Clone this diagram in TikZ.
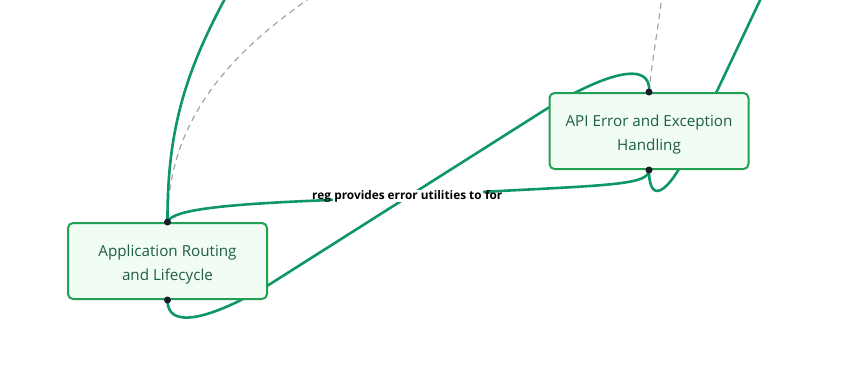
\documentclass[tikz,border=0pt]{standalone}
\usepackage{fontspec}
\setmainfont{Open Sans}
\usetikzlibrary{backgrounds}
\definecolor{edgegreen}{HTML}{0E9664}
\definecolor{boxborder}{HTML}{22A052}
\definecolor{boxfill}{HTML}{F0FCF4}
\definecolor{boxtext}{HTML}{1F5E45}
\definecolor{dashgray}{HTML}{A0A4AC}
\definecolor{dotcol}{HTML}{1A1A2A}
% strut that lowers the first text line a little inside a box
\newcommand{\toppad}{\rule{0pt}{18pt}}
\tikzset{
  box/.style={draw=boxborder, line width=2pt, fill=boxfill, rounded corners=5pt,
    minimum width=199pt, minimum height=76pt, align=center, text=boxtext,
    font=\fontsize{15.2}{24}\selectfont, inner sep=0pt},
  flow/.style={draw=edgegreen, line width=2.6pt},
  weak/.style={draw=dashgray, line width=1.2pt, dash pattern=on 6pt off 4.5pt},
  port/.style={circle, fill=dotcol, inner sep=0pt, minimum size=7pt},
  edgelabel/.style={font=\bfseries\fontsize{11.8}{14}\selectfont, text=black,
    inner sep=0pt, text height=9pt, text depth=3pt}
}
\begin{document}
\begin{tikzpicture}[x=1pt,y=-1pt]
\useasboundingbox (0,0) rectangle (858,383);
\clip (0,0) rectangle (858,383);
\node[box] (app) at (167.5,261) {\toppad Application Routing\\and Lifecycle};
\node[box] (api) at (649,131) {\toppad API Error and Exception\\Handling};
% edge labels sharing one spot
\node[edgelabel, fill=white, inner xsep=1pt] (lblmid) at (408,196) {provides error utilities to};
\node[edgelabel, anchor=east, xshift=-2pt] (lblreg) at (lblmid.west) {reg};
\node[edgelabel, anchor=west, xshift=2pt] (lblfor) at (lblmid.east) {for};
% loose ends running off the top edge
\coordinate (outA) at (238,-25);
\coordinate (outAd) at (325,-12);
\coordinate (outB) at (772,-25);
\coordinate (outBd) at (663,-12);
\begin{scope}[on background layer]
  \draw[weak] (app.north) .. controls (168,120) and (230,50) .. (outAd);
  \draw[weak] (api.north) .. controls (652,60) and (658,30) .. (outBd);
  \draw[flow] (app.north) .. controls (167,120) and (190,60) .. (outA);
  \draw[flow] (app.north) .. controls (172,209) and (230,204) .. (330,200)
    -- (500,191) .. controls (615,185) and (649,184) .. (api.south);
  \draw[flow] (app.south) .. controls (167,328) and (205,322) .. (267,286)
    -- (540,113) .. controls (605,72) and (652,60) .. (api.north);
  \draw[flow] (api.south) .. controls (649,205) and (668,195) .. (690,148)
    -- (outB);
\end{scope}
\node[port] (appN) at (app.north) {};
\node[port] (appS) at (app.south) {};
\node[port] (apiN) at (api.north) {};
\node[port] (apiS) at (api.south) {};
\end{tikzpicture}
\end{document}
